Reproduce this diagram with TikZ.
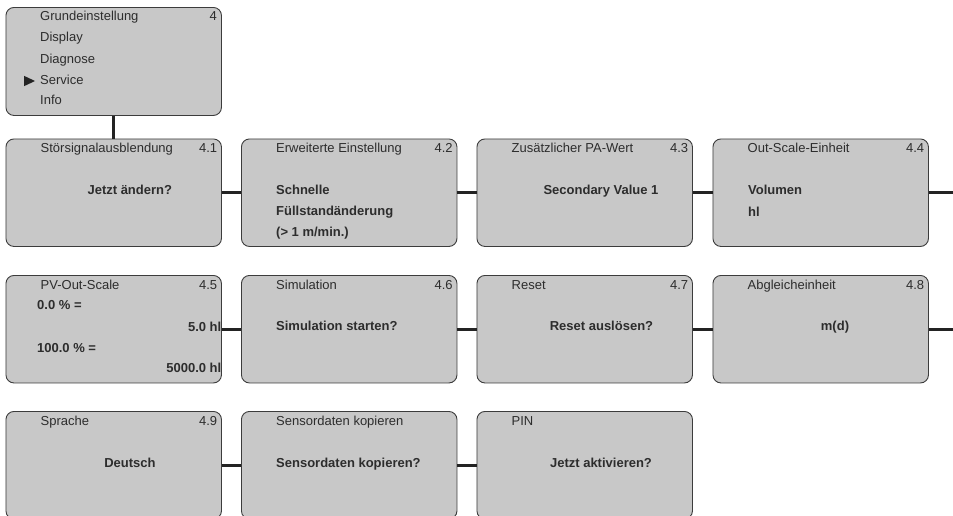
\documentclass[tikz,border=0pt]{standalone}
\usepackage{fontspec}
\setmainfont{Liberation Sans}
\usetikzlibrary{calc}
\definecolor{boxfill}{RGB}{200,200,200}
\definecolor{boxline}{RGB}{60,60,60}
\definecolor{txt}{RGB}{45,45,45}
\definecolor{connc}{RGB}{35,35,35}
\tikzset{
  menubox/.style={draw=boxline, fill=boxfill, line width=0.9pt, rounded corners=8pt,
    minimum width=215.5pt, minimum height=107.5pt, inner sep=0pt, anchor=north west},
  hdr/.style={font=\fontsize{13}{15}\selectfont, text=txt, inner sep=0pt, anchor=base west},
  num/.style={hdr, anchor=base east},
  val/.style={font=\fontsize{13}{15}\selectfont\bfseries, text=txt, inner sep=0pt, anchor=base west},
  valr/.style={val, anchor=base east},
  valc/.style={val, anchor=base},
  connline/.style={draw=connc, line width=2.6pt},
}
\newcommand\menuhead[3]{%
  \node[hdr] (#1h) at ($(#1.north west)+(35,14.2)$) {#2};
  \node[num] (#1n) at ($(#1.north east)+(-4.5,14.2)$) {#3};
}
\newcommand\menuheadonly[2]{%
  \node[hdr] (#1h) at ($(#1.north west)+(35,14.2)$) {#2};
}
\begin{document}
\begin{tikzpicture}[x=1pt,y=-1pt]
\useasboundingbox (0,0) rectangle (953,515);
\clip (0,0) rectangle (953,515);

% top menu
\node[menubox, minimum height=108pt] (b0) at (5.5,7) {};
\node[hdr] (t1) at (40,20.7) {Grundeinstellung};
\node[num] (t1n) at (217,20.7) {4};
\node[hdr] (t2) at (40,41.8) {Display};
\node[hdr] (t3) at (40,63.2) {Diagnose};
\node[hdr] (t4) at (40,84.7) {Service};
\node[hdr] (t5) at (40,104.9) {Info};
\fill[connc] (24,75.8) -- (35,81) -- (24,86.2) -- cycle;

% row 1
\node[menubox] (b41) at (5.5,138.5) {};
\node[menubox] (b42) at (241,138.5) {};
\node[menubox] (b43) at (476.5,138.5) {};
\node[menubox] (b44) at (712.5,138.5) {};
% row 2
\node[menubox] (b45) at (5.5,275) {};
\node[menubox] (b46) at (241,275) {};
\node[menubox] (b47) at (476.5,275) {};
\node[menubox] (b48) at (712.5,275) {};
% row 3
\node[menubox] (b49) at (5.5,411) {};
\node[menubox] (b410) at (241,411) {};
\node[menubox] (b411) at (476.5,411) {};

\menuhead{b41}{Störsignalausblendung}{4.1}
\menuhead{b42}{Erweiterte Einstellung}{4.2}
\menuhead{b43}{Zusätzlicher PA-Wert}{4.3}
\menuhead{b44}{Out-Scale-Einheit}{4.4}
\menuhead{b45}{PV-Out-Scale}{4.5}
\menuhead{b46}{Simulation}{4.6}
\menuhead{b47}{Reset}{4.7}
\menuhead{b48}{Abgleicheinheit}{4.8}
\menuhead{b49}{Sprache}{4.9}
\menuheadonly{b410}{Sensordaten kopieren}
\menuheadonly{b411}{PIN}

% values row 1
\node[valc] (v41) at (129.8,194.2) {Jetzt ändern?};
\node[val] (v42a) at (276,194.7) {Schnelle};
\node[val] (v42b) at (276,215.2) {Füllstandänderung};
\node[val] (v42c) at (276,236.7) {(> 1 m/min.)};
\node[valc] (v43) at (601,194.2) {Secondary Value 1};
\node[val] (v44a) at (748,194.2) {Volumen};
\node[val] (v44b) at (748,216.5) {hl};
% values row 2
\node[val] (v45a) at (37,309.7) {0.0 \% =};
\node[valr] (v45b) at (221.5,331.2) {5.0 hl};
\node[val] (v45c) at (37,352.5) {100.0 \% =};
\node[valr] (v45d) at (221.5,372.7) {5000.0 hl};
\node[val] (v46) at (276,330.2) {Simulation starten?};
\node[valc] (v47) at (601.5,330.2) {Reset auslösen?};
\node[valc] (v48) at (835,330.2) {m(d)};
% values row 3
\node[valc] (v49) at (130,467.2) {Deutsch};
\node[val] (v410) at (276,467.2) {Sensordaten kopieren?};
\node[valc] (v411) at (601,467.2) {Jetzt aktivieren?};

% connectors
\coordinate (e44) at ($(b44.east)+(40,0)$);
\coordinate (e48) at ($(b48.east)+(40,0)$);
\draw[connline] (b0.south) -- (b41.north);
\draw[connline] (b41.east) -- (b42.west);
\draw[connline] (b42.east) -- (b43.west);
\draw[connline] (b43.east) -- (b44.west);
\draw[connline] (b44.east) -- (e44);
\draw[connline] (b45.east) -- (b46.west);
\draw[connline] (b46.east) -- (b47.west);
\draw[connline] (b47.east) -- (b48.west);
\draw[connline] (b48.east) -- (e48);
\draw[connline] (b49.east) -- (b410.west);
\draw[connline] (b410.east) -- (b411.west);
\end{tikzpicture}
\end{document}
